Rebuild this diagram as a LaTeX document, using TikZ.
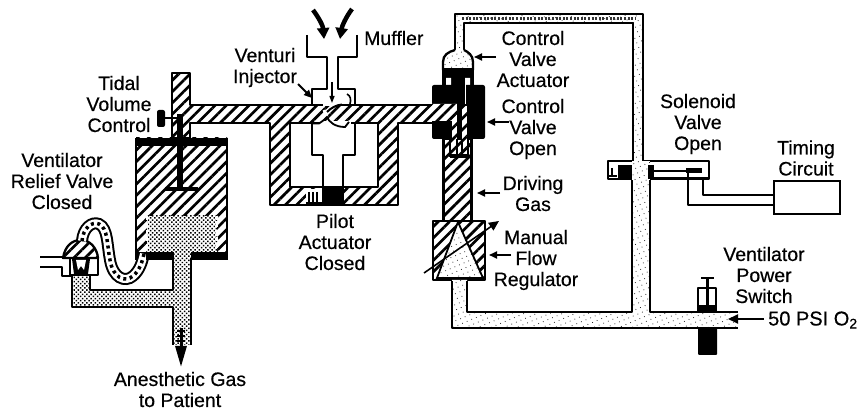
\documentclass[tikz,border=0pt]{standalone}
\usepackage{fontspec}
\setmainfont[FakeBold=0.45]{Liberation Sans}
\usetikzlibrary{patterns.meta,arrows.meta}
\tikzset{
  wall/.style={draw=black,line width=2.3pt,line join=round},
  hatched/.style={preaction={fill=white},pattern={Lines[angle=45,distance=8pt,line width=2.7pt]},pattern color=black},
  stipple/.style={preaction={fill=white},pattern={Dots[radius=.55pt,distance=5pt,angle=23]},pattern color=black!85},
  dense/.style={preaction={fill=white},pattern={Dots[radius=1.05pt,distance=3pt,angle=45]},pattern color=black},
  label/.style={align=center,inner sep=0pt,font=\fontsize{19.5}{21}\selectfont},
  leader/.style={line width=1.8pt,-{Triangle[length=8pt,width=7pt]}},
  bigarrow/.style={line width=4.5pt,-{Triangle[length=11pt,width=12pt]}}
}
\begin{document}
\begin{tikzpicture}[x=1pt,y=-1pt]
\useasboundingbox (0,0) rectangle (859,411);
\fill[white] (0,0) rectangle (859,411);

% --- bellows cylinder
\path[hatched] (136,138) rectangle (227,260);
\fill[black] (136,138) rectangle (227,146);
\draw[wall] (136,138) -- (136,260) (227,138) -- (227,260);
\fill[black] (136,252) rectangle (227,260);
\path[dense] (147,216) rectangle (217,252);
\draw[line width=2pt,dash pattern=on 4pt off 3pt,white] (147,216) -- (147,250) (217,216) -- (217,250);

% --- hatched pipe, tidal tube and pilot body
\path[hatched,wall] (172,138) -- (172,73) -- (190,73) -- (190,105) -- (445,105) -- (445,123)
  -- (398,123) -- (398,205) -- (270,205) -- (270,123) -- (190,123) -- (190,138) -- cycle;
\draw[wall,fill=white] (290,123) rectangle (378,187);

% pilot piston
\draw[wall] (312,123) -- (312,155) -- (323,155) -- (323,188);
\draw[wall] (355,123) -- (355,155) -- (343,155) -- (343,188);
\fill[black] (322,188) rectangle (344,204);
\fill[white] (306,189) rectangle (322,204);
\draw[line width=1.3pt] (309,192) -- (309,203) (313,192) -- (313,203) (317,192) -- (317,203) (306,203) -- (322,203);

% piston rod and knob
\fill[black] (177,114) rectangle (183,189);
\fill[black] (165,187) rectangle (198,191);
\fill[black,rounded corners=2pt] (157,110) rectangle (165,127);
\draw[line width=2pt] (165,118) -- (178,118);

% --- venturi and muffler
\fill[white] (314,91) rectangle (353,103.5);
\fill[white] (329,58) rectangle (337,92);
\draw[wall] (307,35) -- (307,57) -- (327,57) -- (327,89) -- (312,89) -- (312,104);
\draw[wall] (357,35) -- (357,57) -- (338,57) -- (338,89) -- (355,89) -- (355,104);
\draw[bigarrow] (313,10) .. controls (319,18) and (323,26) .. (324,39);
\draw[bigarrow] (352,9) .. controls (346,17) and (342,26) .. (340,39);
\draw[line width=1.3pt,-{Triangle[length=7pt,width=5pt]}] (332,82) -- (332,103);
\draw[line width=1.6pt] (347,94) .. controls (351,96) and (351,100) .. (350,104);
% flap through the pipe
\fill[white] (323,103) rectangle (340,106.5);
\fill[white] (319,121.5) rectangle (351,125);
\draw[line width=3pt,white] (324,110) -- (327,117);
\draw[line width=2pt] (327,112) .. controls (331,108) and (336,105) .. (342,104.5);
\draw[line width=1.8pt] (311,123.5) -- (319,123.5) .. controls (323,121) and (325,119) .. (327,117) .. controls (329,122) and (335,127) .. (345,127) -- (349,122);

% --- dense dotted outlet and relief line
\path[dense] (173,250) rectangle (191,345);
\path[dense] (72,275) rectangle (90,307);
\path[dense] (72,290) rectangle (175,307);
\draw[wall] (173,252) -- (173,290) -- (90,290) -- (90,275);
\draw[wall] (72,275) -- (72,307) -- (173,307) -- (173,345);
\draw[wall] (191,258) -- (191,345);
\draw[line width=3pt,-{Triangle[length=21pt,width=11pt]}] (181,328) -- (181,367);
\draw[line width=1.2pt] (177,331) -- (185,331) (177,336) -- (185,336) (177,341) -- (185,341);

% --- relief valve
\draw[wall,fill=white] (70,258) -- (98,258) -- (98,275) -- (70,275) -- cycle;
\path[hatched,wall] (63,258) .. controls (65,246) and (72,240) .. (81,240) .. controls (90,240) and (97,248) .. (98,258) -- cycle;
\draw[wall] (40,257) -- (63,257) (40,267) -- (62,267) -- (62,276) -- (72,276);
\fill[black] (72,259) -- (90,259) -- (88,274) -- (74,274) -- cycle;
\fill[white] (76,260) -- (86,260) -- (84,270) -- (81,266) -- (78,270) -- cycle;
% hose
\def\hosepath{(82,241) .. controls (83,228) and (92,221) .. (99,224) .. controls (108,228) and (107,245) .. (110,260) .. controls (113,278) and (125,283) .. (133,276) .. controls (140,270) and (142,262) .. (144,254)}
\draw[line width=12pt,black] \hosepath;
\draw[line width=8pt,white] \hosepath;
\draw[line width=3.5pt,black,dash pattern=on 3pt off 3.5pt] \hosepath;
\fill[black] (146,252) rectangle (173,260);
\fill[black] (191,252) rectangle (227,260);

% --- stippled gas line to control valve
\path[stipple] (455,52) -- (455,14) -- (643,14) -- (643,161) -- (633,161) -- (633,23) -- (464,23) -- (464,52) -- cycle;
\draw[line width=2.6pt,black!80,dash pattern=on 2pt off 1.6pt] (462,18.5) -- (636,18.5);
\draw[wall] (455,52) -- (455,14) -- (643,14) -- (643,161);
\draw[wall] (464,52) -- (464,23) -- (633,23) -- (633,161);
\path[stipple,wall] (455,50) .. controls (448,52) and (443,55) .. (443,62) -- (443,70) -- (473,70) -- (473,62) .. controls (473,55) and (468,52) .. (464,50);
\path[stipple] (456,47) rectangle (463,54);

% --- control valve
\path[hatched,wall] (443.5,139) rectangle (471.5,221);
\fill[black] (442,68) rectangle (474,86);
\fill[white] (446,78) rectangle (451,86) (465,78) rectangle (470,86);
\fill[black,rounded corners=2pt] (432,85) rectangle (485,139);
\path[hatched] (432,104) -- (457,104) -- (457,144) -- (452,144) -- (452,121) -- (432,121) -- cycle;
\path[hatched] (462,106) rectangle (467,144);
\draw[line width=1pt,white] (465,78) -- (465,104);
\draw[line width=2pt] (450,139) -- (450,157) (468,139) -- (468,157);
\fill[black] (457,104) rectangle (461.5,139);
\draw[line width=1.8pt] (457,139) -- (457,155) (462,139) -- (462,155);
\fill[black] (450,154) rectangle (468,158);

% --- flow regulator
\path[hatched,wall] (433,221) rectangle (485,280);
\path[stipple] (458,222) -- (437,278) -- (483,278) -- cycle;
\draw[line width=1.8pt] (458,222) -- (437,278) -- (483,278) -- cycle;
\draw[line width=1.6pt,-{Triangle[length=10pt,width=9pt]}] (424,273) -- (499,221);

% --- lower stippled manifold
\path[stipple] (632,179) -- (632,312) -- (467,312) -- (467,280) -- (452,280) -- (452,328) -- (738,328) -- (738,312) -- (650,312) -- (650,179) -- cycle;
\draw[wall] (632,179) -- (632,312) -- (467,312) -- (467,281);
\draw[wall] (452,281) -- (452,328) -- (738,328);
\draw[wall] (650,179) -- (650,312) -- (698,312) (717,312) -- (738,312);

% --- solenoid
\draw[wall] (633,161) -- (608,161) -- (608,179) -- (632,179);
\draw[wall] (643,161) -- (709,161) -- (709,179) -- (650,179);
\path[stipple] (632,161) rectangle (650,180);
\fill[black] (618,165) rectangle (632,179);
\fill[black] (648,165) rectangle (654,179);
\draw[line width=1.3pt] (612,168) -- (612,176) (609,176) -- (617,176);
\draw[wall] (654,171) -- (695,171) (654,178) -- (709,178);
\fill[black] (686,168) rectangle (702,173);

% --- wires and timing circuit
\node[draw,line width=2.3pt,minimum width=66pt,minimum height=33pt,inner sep=0pt,anchor=north west] (timer) at (773,180) {};
\draw[wall] (688,172) -- (688,205) -- (773,205);
\draw[wall] (703,178) -- (703,195) -- (773,195);

% --- power switch
\draw[wall] (698,312) -- (698,288) -- (716,288) -- (716,312);
\draw[wall] (701,278) -- (714,278) (707.5,278) -- (707.5,306);
\fill[black] (698,305) rectangle (717,313);
\fill[black,rounded corners=1pt] (698,328) rectangle (717,355);

% --- leaders
\draw[leader] (496,57) -- (474,57);
\draw[leader] (509,122) -- (487,122);
\draw[leader] (500,193) -- (477,193);
\draw[leader] (511,255) -- (489,255);
\draw[leader] (298,84) -- (312,98);
\draw[line width=2pt,-{Triangle[length=10pt,width=9pt]}] (764,319) -- (728,319);

% --- labels
\node[label] (tidal) at (119,104) {Tidal\\Volume\\Control};
\node[label] (relief) at (62,181) {Ventilator\\Relief Valve\\Closed};
\node[label] (venturi) at (265,67.5) {Venturi\\Injector};
\node[label,anchor=west] (muffler) at (364,38) {Muffler};
\node[label] (cva) at (533,59) {Control\\Valve\\Actuator};
\node[label] (cvo) at (533,129) {Control\\Valve\\Open};
\node[label] (driving) at (533,193.5) {Driving\\Gas};
\node[label] (pilot) at (335,242) {Pilot\\Actuator\\Closed};
\node[label] (manual) at (536,260) {Manual\\Flow\\Regulator};
\node[label] (solenoid) at (698,124) {Solenoid\\Valve\\Open};
\node[label] (timing) at (806,158) {Timing\\Circuit};
\node[label] (power) at (764,275) {Ventilator\\Power\\Switch};
\node[label,anchor=west,font=\fontsize{20}{21}\selectfont] (psi) at (768,320) {50 PSI O\textsubscript{2}};
\node[label] (anes) at (180,389.5) {Anesthetic Gas\\to Patient};
\end{tikzpicture}
\end{document}
